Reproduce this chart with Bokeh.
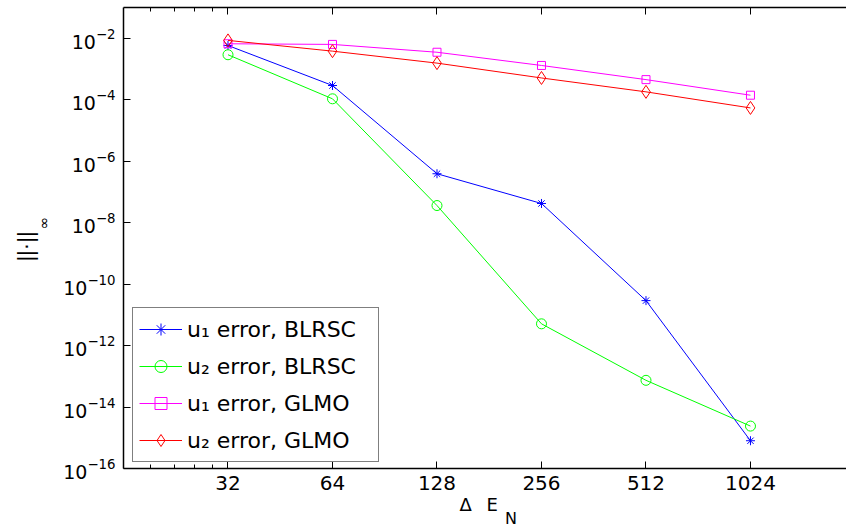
import math

from bokeh.embed import file_html
from bokeh.models import (BasicTickFormatter, FixedTicker, Label, Legend,
                          LegendItem, LogAxis, LogTickFormatter, Range1d)
from bokeh.plotting import figure
from bokeh.resources import INLINE

# Number of elements and the max-norm errors of both schemes
n_elements = [32, 64, 128, 256, 512, 1024]
u1_blrsc = [5.8e-3, 2.9e-4, 3.9e-7, 4.2e-8, 2.9e-11, 8.0e-16]
u2_blrsc = [2.9e-3, 1.07e-4, 3.6e-8, 5.1e-12, 7.4e-14, 2.4e-15]
u1_glmo = [6.6e-3, 6.3e-3, 3.5e-3, 1.3e-3, 4.5e-4, 1.4e-4]
u2_glmo = [8.5e-3, 3.8e-3, 1.55e-3, 5.1e-4, 1.8e-4, 5.4e-5]

series_labels = ["u\u2081 error, BLRSC", "u\u2082 error, BLRSC",
                 "u\u2081 error, GLMO", "u\u2082 error, GLMO"]

x_ticks = [32, 64, 128, 256, 512, 1024]
x_minor_ticks = [19.2, 22.4, 25.6, 28.8]
y_ticks = [1e-16, 1e-14, 1e-12, 1e-10, 1e-8, 1e-6, 1e-4, 1e-2]

FONT = "DejaVu Sans"

p = figure(width=846, height=529, x_axis_type="log", y_axis_type="log",
           x_range=Range1d(16, 1936), y_range=Range1d(1e-16, 1e-1),
           output_backend="svg", toolbar_location=None,
           min_border_left=123, min_border_right=0,
           min_border_top=7, min_border_bottom=61)
p.outline_line_color = None
p.grid.visible = False
p.background_fill_color = "white"
p.border_fill_color = "white"


def style_axis(ax, show_labels=True):
    ax.axis_line_color = "black"
    ax.axis_line_width = 1.5
    ax.major_tick_line_color = "black"
    ax.minor_tick_line_color = "black"
    ax.major_tick_in = 7
    ax.major_tick_out = 0
    ax.minor_tick_in = 4
    ax.minor_tick_out = 0
    ax.major_label_text_font = FONT
    ax.major_label_text_color = "black"
    if show_labels:
        ax.major_label_text_font_size = "19px"
    else:
        ax.major_label_text_font_size = "0px"
        ax.major_label_standoff = 0


xticker = FixedTicker(ticks=x_ticks, minor_ticks=x_minor_ticks)
yticker = FixedTicker(ticks=y_ticks, minor_ticks=[])

bottom = p.xaxis[0]
bottom.ticker = xticker
bottom.formatter = BasicTickFormatter()
style_axis(bottom)
bottom.major_label_text_font_size = "20px"
bottom.major_label_standoff = 7

left = p.yaxis[0]
left.ticker = yticker
left.formatter = LogTickFormatter()
style_axis(left)
left.major_label_standoff = 8

top = LogAxis(ticker=xticker)
style_axis(top, show_labels=False)
p.add_layout(top, "above")

# Error curves
styles = [
    (u1_blrsc, "#0000ff", "asterisk", 9),
    (u2_blrsc, "#00ff00", "circle", 10),
    (u1_glmo, "#ff00ff", "square", 8),
    (u2_glmo, "#ff0000", "diamond", 13),
]
items = []
for (vals, color, marker, size), label in zip(styles, series_labels):
    ln = p.line(n_elements, vals, line_color=color, line_width=1)
    sc = p.scatter(n_elements, vals, marker=marker, size=size,
                   line_color=color, fill_color=None, line_width=1)
    items.append(LegendItem(label=label, renderers=[ln, sc]))

legend = Legend(items=items, location=(9, 6), margin=0, padding=6,
                spacing=7, label_height=30, glyph_height=30, glyph_width=43,
                label_width=185, label_standoff=5, label_text_font=FONT,
                label_text_font_size="22px", label_text_color="black",
                border_line_color="black", border_line_width=1,
                background_fill_color="white", background_fill_alpha=1)
p.add_layout(legend)

# Axis titles: kept in the margins so that they are drawn outside the frame
p.add_layout(Label(x=336, y=8.6, x_units="screen", y_units="screen",
                   text="\u0394\u2002 E", text_font=FONT, text_font_size="18px",
                   text_align="left", text_baseline="alphabetic",
                   text_color="black"), "below")
p.add_layout(Label(x=-10, y=222, x_units="screen", y_units="screen",
                   text="||\u00b7||", angle=math.pi / 2,
                   text_font="Liberation Sans", text_font_size="22px",
                   text_align="center", text_baseline="middle",
                   text_color="black"), "left")
p.add_layout(Label(x=26, y=245.5, x_units="screen", y_units="screen",
                   text="\u221e", angle=math.pi / 2, text_font=FONT,
                   text_font_size="15px", text_align="center",
                   text_baseline="middle", text_color="black"), "left")
p.add_layout(Label(x=505.5, y=-49.5, x_units="screen", y_units="screen",
                   text="N", text_font=FONT, text_font_size="16px",
                   text_align="center", text_baseline="middle",
                   text_color="black"), "left")

open("out.html", "w").write(file_html(p, INLINE))
